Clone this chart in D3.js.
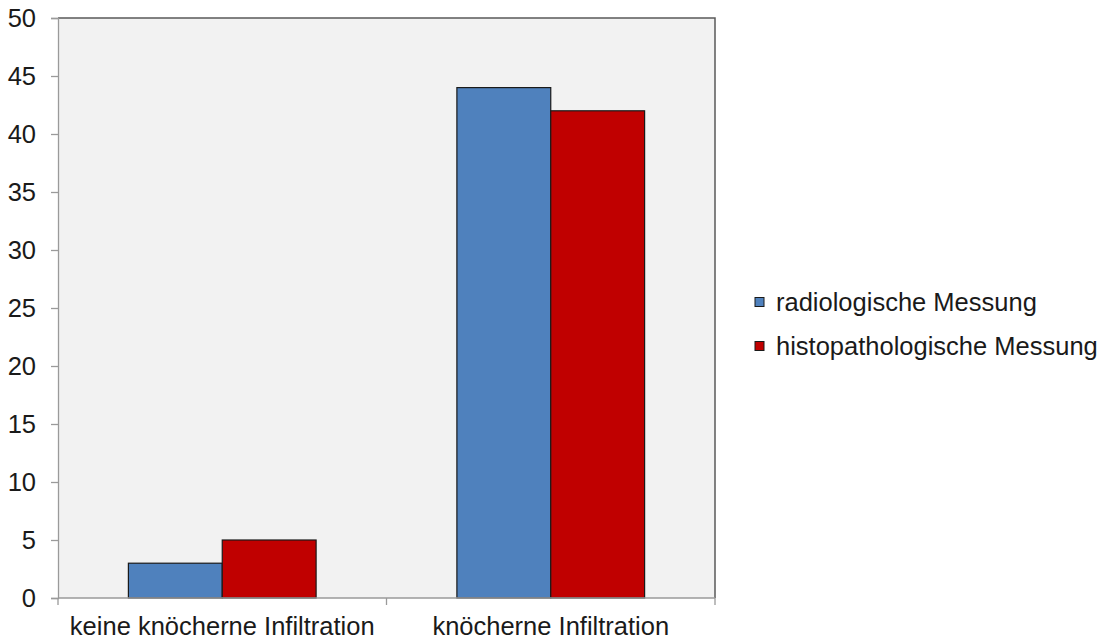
<!DOCTYPE html>
<html>
<head>
<meta charset="utf-8">
<script src="https://cdn.jsdelivr.net/npm/d3@7/dist/d3.min.js"></script>
<style>
  html, body { margin: 0; padding: 0; background: #ffffff; }
  svg { display: block; }
  text { font-family: "Liberation Sans", Arial, sans-serif; fill: #1a1a1a; }
</style>
</head>
<body>
<svg id="chart" width="1101" height="641"></svg>
<script>
// Categories, series and tick values
const categories = ["keine knöcherne Infiltration", "knöcherne Infiltration"];
const seriesNames = ["radiologische Messung", "histopathologische Messung"];
const radiologisch = [3, 44];
const histopathologisch = [5, 42];
const seriesColors = ["#4F81BD", "#C00000"];
const yTicks = [0, 5, 10, 15, 20, 25, 30, 35, 40, 45, 50];

const seriesValues = [radiologisch, histopathologisch];
const fontSize = "25.5px";

const svg = d3.select("#chart");
const plot = { left: 58, top: 18, right: 715, bottom: 598 };

const x = d3.scaleBand()
  .domain(categories)
  .range([plot.left, plot.right])
  .paddingInner(0)
  .paddingOuter(0);

// bars take up 188 of each 328-wide band (gap width 150%)
const inner = d3.scaleBand()
  .domain(d3.range(seriesNames.length))
  .range([0, x.bandwidth()])
  .paddingInner(0)
  .paddingOuter(0.75);

const y = d3.scaleLinear().domain([0, 50]).range([plot.bottom, plot.top]);

// plot background
svg.append("rect")
  .attr("x", plot.left).attr("y", plot.top)
  .attr("width", plot.right - plot.left)
  .attr("height", plot.bottom - plot.top)
  .attr("fill", "#F2F2F2");

// top and right plot border
svg.append("path")
  .attr("d", `M${plot.left},${plot.top}H${plot.right}V${plot.bottom}`)
  .attr("fill", "none")
  .attr("stroke", "#595959")
  .attr("stroke-width", 1.5);

// bars
categories.forEach((cat, ci) => {
  seriesValues.forEach((vals, si) => {
    svg.append("rect")
      .attr("x", x(cat) + inner(si))
      .attr("y", y(vals[ci]))
      .attr("width", inner.bandwidth())
      .attr("height", y(0) - y(vals[ci]))
      .attr("fill", seriesColors[si])
      .attr("stroke", "#1a1a1a")
      .attr("stroke-width", 1.2);
  });
});

// y axis
const yAxis = d3.axisLeft(y).tickValues(yTicks).tickSize(7).tickPadding(15);
const gy = svg.append("g")
  .attr("transform", `translate(${plot.left},0)`)
  .call(yAxis);
gy.select(".domain").attr("stroke", "#9a9a9a").attr("stroke-width", 1.3);
gy.selectAll(".tick line").attr("stroke", "#9a9a9a").attr("stroke-width", 1.3);
gy.selectAll(".tick text")
  .attr("font-size", fontSize)
  .attr("font-family", "Liberation Sans, Arial, sans-serif")
  .attr("fill", "#1a1a1a");

// x axis: tick marks at band boundaries, labels centred in each band
const gx = svg.append("g").attr("transform", `translate(0,${plot.bottom})`);
gx.append("line")
  .attr("x1", plot.left).attr("x2", plot.right)
  .attr("stroke", "#9a9a9a").attr("stroke-width", 1.3);
const boundaries = categories.map(c => x(c)).concat([plot.right]);
gx.selectAll("line.tk").data(boundaries).enter().append("line")
  .attr("class", "tk")
  .attr("x1", d => d).attr("x2", d => d)
  .attr("y1", 0).attr("y2", 7)
  .attr("stroke", "#9a9a9a").attr("stroke-width", 1.3);
gx.selectAll("text").data(categories).enter().append("text")
  .attr("x", d => x(d) + x.bandwidth() / 2)
  .attr("y", 37)
  .attr("text-anchor", "middle")
  .attr("font-size", fontSize)
  .text(d => d);

// legend
const legend = svg.append("g").attr("transform", "translate(755,0)");
seriesNames.forEach((name, i) => {
  const cy = 302 + i * 44;
  legend.append("rect")
    .attr("x", 0).attr("y", cy - 4.5)
    .attr("width", 9).attr("height", 9)
    .attr("fill", seriesColors[i])
    .attr("stroke", "#1a1a1a").attr("stroke-width", 1);
  legend.append("text")
    .attr("x", 21).attr("y", cy + 9)
    .attr("font-size", fontSize)
    .text(name);
});
</script>
</body>
</html>
